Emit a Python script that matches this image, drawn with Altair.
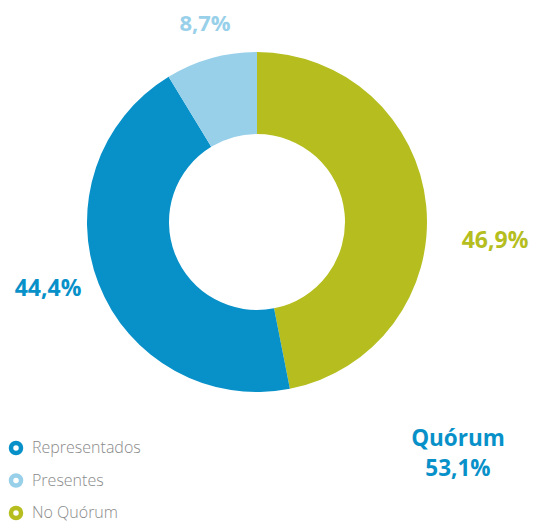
import altair as alt
import pandas as pd

categories = ["No Quórum", "Representados", "Presentes"]
values = [46.9, 44.4, 8.7]
order = [0, 1, 2]
colors = ["#b5be1e", "#0891c9", "#98d0ea"]

legend_labels = ["Representados", "Presentes", "No Quórum"]
legend_colors = ["#0891c9", "#98d0ea", "#b5be1e"]

df = pd.DataFrame({"cat": categories, "val": values, "ord": order})

W, H = 521, 514
CX, CY = 249, 214

arc = alt.Chart(df).mark_arc(outerRadius=170, innerRadius=88).encode(
    theta=alt.Theta("val:Q", stack=True),
    order=alt.Order("ord:Q"),
    color=alt.Color("cat:N", scale=alt.Scale(domain=categories, range=colors), legend=None),
    x=alt.value(CX),
    y=alt.value(CY),
)

def label(text, x, y, color, size=23):
    return alt.Chart(pd.DataFrame({"t": [text]})).mark_text(
        font="Open Sans", fontWeight="bold", fontSize=size, color=color,
        align="center", baseline="middle",
    ).encode(text="t:N", x=alt.value(x), y=alt.value(y))

labels = (
    label("8,7%", 197, 16, "#98d0ea", 22)
    + label("46,9%", 487, 233, "#b5be1e")
    + label("44,4%", 40, 281, "#0891c9")
    + label("Quórum", 450, 431, "#0891c9", 22.5)
    + label("53,1%", 450, 461, "#0891c9", 22.5)
)

leg_df = pd.DataFrame({"lab": legend_labels, "row": [0, 1, 2]})
ysc = alt.Scale(domain=[0, 2], range=[440, 505])
leg_pts = alt.Chart(leg_df).mark_point(
    shape="circle", filled=False, strokeWidth=4.5, size=100, opacity=1
).encode(
    x=alt.value(8),
    y=alt.Y("row:Q", scale=ysc, axis=None),
    color=alt.Color("lab:N", scale=alt.Scale(domain=legend_labels, range=legend_colors), legend=None),
)
leg_txt = alt.Chart(leg_df).mark_text(
    font="Open Sans", fontWeight=300, fontSize=16, color="#8a8a8a",
    align="left", baseline="middle",
).encode(
    x=alt.value(24),
    y=alt.Y("row:Q", scale=ysc, axis=None),
    text="lab:N",
)

chart = alt.layer(arc, labels, leg_pts, leg_txt).resolve_scale(color="independent").properties(
    width=W, height=H, padding=0, autosize=alt.AutoSizeParams(type="none")
).configure_view(stroke=None)

chart.save("out.html", embed_options={"renderer": "svg", "actions": False})
